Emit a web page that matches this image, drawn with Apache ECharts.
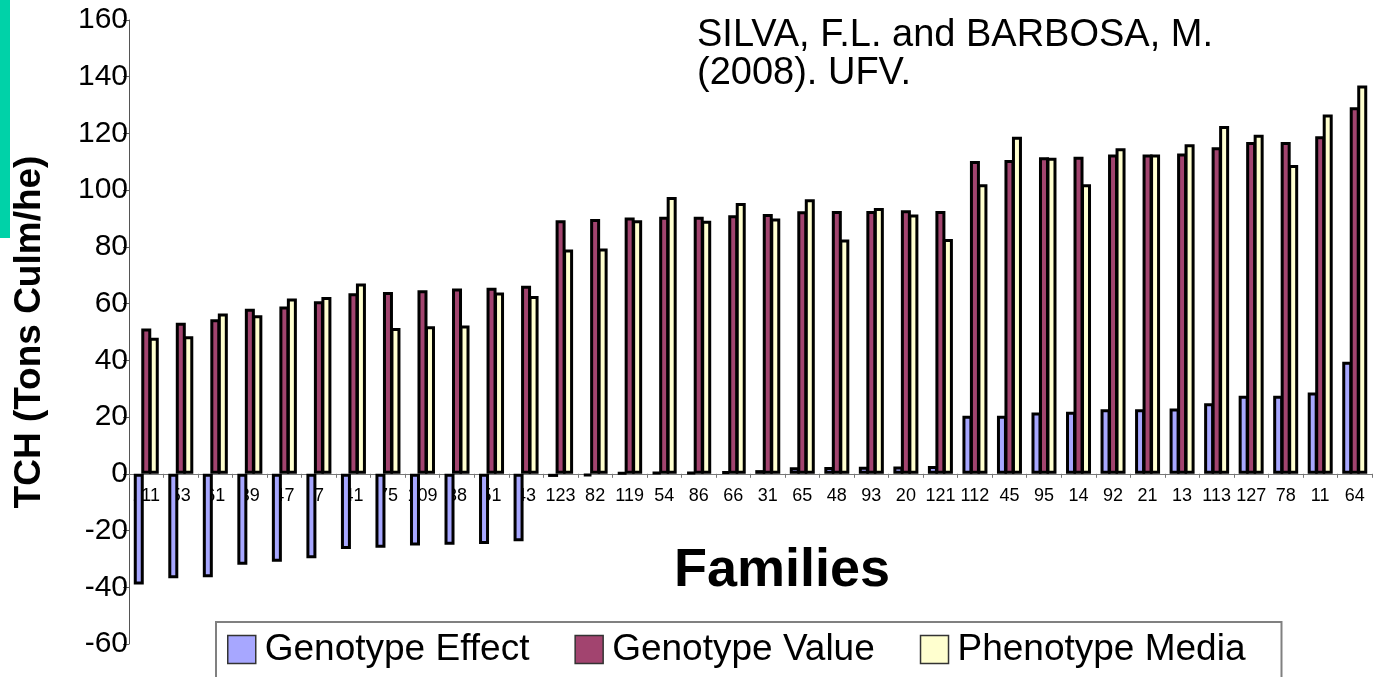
<!DOCTYPE html>
<html>
<head>
<meta charset="utf-8">
<title>TCH by family</title>
<script src="https://cdn.jsdelivr.net/npm/echarts@6/dist/echarts.min.js"></script>
<style>
  html, body { margin: 0; padding: 0; background: #ffffff; }
  #chart { width: 1381px; height: 677px; }
</style>
</head>
<body>
<div id="chart"></div>
<script>
// Sugarcane families ordered by genotype value
const families = ['111','53','61','39','47','7','41','75','109','38','51','43',
  '123','82','119','54','86','66','31','65','48','93','20','121',
  '112','45','95','14','92','21','13','113','127','78','11','64'];

// Genotype effect (deviation from the overall mean), TCH
const genotypeEffect = [-39.0,-36.8,-36.5,-32.1,-31.0,-29.8,-26.5,-26.1,-25.3,-25.0,-24.7,-23.8,
  -1.1,-0.8,0.4,0.6,0.6,1.0,1.3,2.3,2.4,2.5,2.6,2.8,
  20.5,20.5,21.6,21.9,22.8,22.8,23.0,24.9,27.5,27.5,28.7,39.5];

// Genotype value, TCH
const genotypeValue = [51.2,53.3,54.5,58.2,59.0,60.8,63.7,64.1,64.7,65.3,65.6,66.3,
  89.4,89.8,90.4,90.6,90.6,91.2,91.6,92.6,92.7,92.7,92.9,92.7,
  110.3,110.6,111.6,111.8,112.6,112.6,112.9,115.1,117.0,117.0,119.0,129.2];

// Phenotypic mean, TCH
const phenotypeMedia = [48.0,48.5,56.5,55.9,61.8,62.3,67.1,51.4,52.0,52.3,63.9,62.7,
  79.1,79.4,89.4,97.6,89.2,95.5,90.0,96.8,82.6,93.7,91.4,82.8,
  102.1,118.8,111.4,102.1,114.8,112.6,116.2,122.6,119.5,108.9,126.7,136.9];

const seriesNames = ['Genotype Effect', 'Genotype Value', 'Phenotype Media'];
const seriesColors = ['#a7a7ff', '#a2446f', '#ffffcf'];
const seriesData = [genotypeEffect, genotypeValue, phenotypeMedia];

const yTicks = { min: -60, max: 160, step: 20 };

const FONT = 'Arial, "Liberation Sans", sans-serif';

// plot box
const GRID = { left: 129, right: 9, top: 20, bottom: 33 };
const CHART_H = 677;
// lift the category axis so it runs along value 0
const plotH = CHART_H - GRID.top - GRID.bottom;
const zeroLift = plotH * (0 - yTicks.min) / (yTicks.max - yTicks.min);

const chart = echarts.init(document.getElementById('chart'), null, { renderer: 'canvas' });

chart.setOption({
  backgroundColor: '#ffffff',
  animation: false,
  textStyle: { fontFamily: FONT, color: '#000' },
  title: {
    text: 'SILVA, F.L. and BARBOSA, M.\n(2008). UFV.',
    left: 697,
    top: 16,
    padding: 0,
    textStyle: { fontFamily: FONT, fontSize: 38, fontWeight: 'normal', color: '#000', lineHeight: 38.5 }
  },
  graphic: [
    { type: 'rect', left: 0, top: 0, shape: { width: 10, height: 238 }, style: { fill: '#00d2a8' } },
    {
      type: 'text', x: 782, y: 571,
      style: { text: 'Families', fontFamily: FONT, fontSize: 54, fontWeight: 'bold', fill: '#000',
               textAlign: 'center', textVerticalAlign: 'middle' }
    }
  ],
  legend: {
    data: seriesNames,
    left: 216,
    top: 622,
    orient: 'horizontal',
    icon: 'rect',
    padding: [9, 36, 30, 11],
    itemWidth: 28,
    itemHeight: 28,
    itemGap: 45,
    borderColor: '#808080',
    borderWidth: 2,
    backgroundColor: '#ffffff',
    selectedMode: false,
    itemStyle: { borderColor: '#333', borderWidth: 1.5 },
    textStyle: { fontFamily: FONT, fontSize: 37, color: '#000', padding: [0, 0, 0, 4] }
  },
  grid: { left: GRID.left, right: GRID.right, top: GRID.top, bottom: GRID.bottom,
          containLabel: false, outerBoundsMode: 'none' },
  xAxis: {
    type: 'category',
    data: families,
    position: 'bottom',
    offset: -zeroLift,
    axisLine: { onZero: false, lineStyle: { color: '#777', width: 1 } },
    axisTick: { show: true, length: 4, alignWithLabel: false, lineStyle: { color: '#777' } },
    axisLabel: { interval: 0, fontSize: 18, color: '#000', margin: 13, fontFamily: FONT },
    splitLine: { show: false }
  },
  yAxis: {
    type: 'value',
    min: yTicks.min,
    max: yTicks.max,
    interval: yTicks.step,
    name: 'TCH (Tons Culm/he)',
    nameLocation: 'middle',
    nameRotate: 90,
    nameGap: 81,
    nameTextStyle: { fontFamily: FONT, fontSize: 37, fontWeight: 'bold', color: '#000' },
    axisLine: { show: true, lineStyle: { color: '#555', width: 1 } },
    axisTick: { show: true, length: 6, lineStyle: { color: '#555' } },
    axisLabel: { fontSize: 30, color: '#000', margin: 1, fontFamily: FONT },
    splitLine: { show: false }
  },
  series: seriesNames.map((name, i) => ({
    name: name,
    type: 'bar',
    data: seriesData[i],
    barWidth: 10,
    barGap: '-25%',
    itemStyle: { color: seriesColors[i], borderColor: '#000', borderWidth: 3 }
  }))
});
</script>
</body>
</html>
